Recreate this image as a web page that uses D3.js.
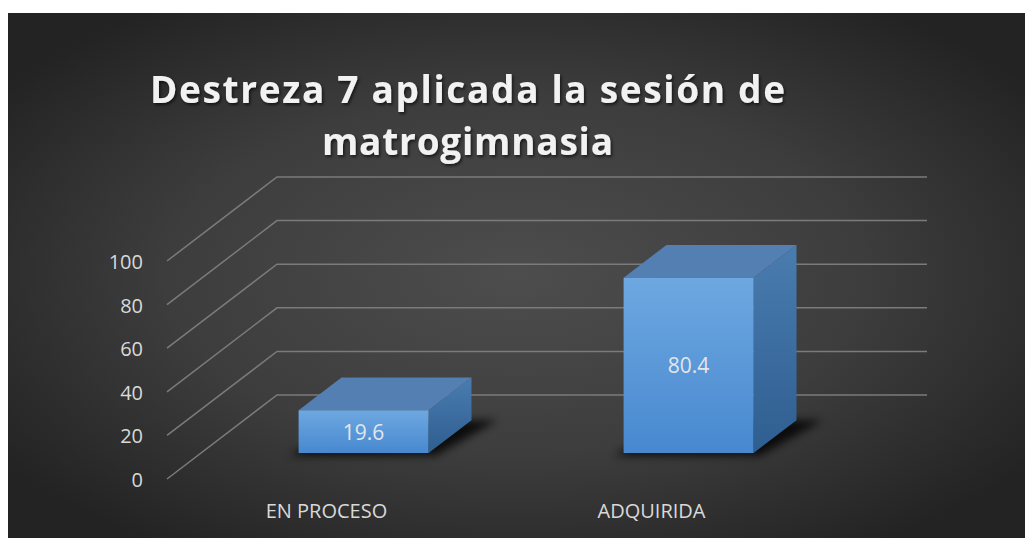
<!DOCTYPE html>
<html>
<head>
<meta charset="utf-8">
<script src="https://cdn.jsdelivr.net/npm/d3@7"></script>
<style>
  body { margin: 0; background: #ffffff; }
  svg { display: block; }
</style>
</head>
<body>
<script>
// chart data
var categories = ["EN PROCESO", "ADQUIRIDA"];
var values = [19.6, 80.4];
var tickValues = [0, 20, 40, 60, 80, 100];
var titleLines = ["Destreza 7 aplicada la sesión de", "matrogimnasia"];

window.onload = drawChart();

function drawChart(){

    var width = 1025,
        height = 538;

    var svg = d3.select("body")
        .append("svg")
        .attr("width", width)
        .attr("height", height);

    var defs = svg.append("defs");

    //dark radial background
    var bg = defs.append("radialGradient")
        .attr("id", "bgGrad")
        .attr("cx", "50%").attr("cy", "50%").attr("r", "62%");
    bg.append("stop").attr("offset", "0%").attr("stop-color", "#4d4d4d");
    bg.append("stop").attr("offset", "55%").attr("stop-color", "#3d3d3d");
    bg.append("stop").attr("offset", "100%").attr("stop-color", "#232323");

    var front = defs.append("linearGradient")
        .attr("id", "frontGrad").attr("x1", 0).attr("y1", 0).attr("x2", 0).attr("y2", 1);
    front.append("stop").attr("offset", "0%").attr("stop-color", "#6ea8e1");
    front.append("stop").attr("offset", "100%").attr("stop-color", "#4788cf");

    var side = defs.append("linearGradient")
        .attr("id", "sideGrad").attr("x1", 0).attr("y1", 0).attr("x2", 0).attr("y2", 1);
    side.append("stop").attr("offset", "0%").attr("stop-color", "#4a7cb0");
    side.append("stop").attr("offset", "100%").attr("stop-color", "#2f5e90");

    defs.append("filter").attr("id", "blur")
        .attr("x", "-20%").attr("y", "-50%").attr("width", "140%").attr("height", "200%")
        .append("feGaussianBlur").attr("stdDeviation", 4);

    defs.append("filter").attr("id", "titleShadow")
        .append("feDropShadow")
        .attr("dx", 1.5).attr("dy", 2).attr("stdDeviation", 1.5)
        .attr("flood-color", "#000").attr("flood-opacity", 0.6);

    svg.append("rect")
        .attr("x", 8).attr("y", 13)
        .attr("width", width - 8).attr("height", height - 13)
        .attr("fill", "url(#bgGrad)");

    //front plane scales
    var x = d3.scaleBand()
        .domain(categories)
        .range([167, 817])
        .paddingInner(0.6)
        .paddingOuter(0.3);

    var y = d3.scaleLinear()
        .domain([0, 100])
        .range([479, 261]);

    //oblique depth: z = 0 front, z = 1 back wall
    var depthX = 110, depthY = -84;
    var barZ = [0.31, 0.70];

    function project(px, v, z){
        return [px + z * depthX, y(v) + z * depthY];
    }

    function poly(pts){ return pts.map(function(p){ return p.join(","); }).join(" "); }

    var x0 = x.range()[0], x1 = x.range()[1];

    //gridlines: side wall diagonal + back wall line
    var grid = svg.append("g")
        .attr("stroke", "#7b7b7b")
        .attr("stroke-width", 1.5)
        .attr("fill", "none");

    grid.selectAll(".grid")
        .data(tickValues)
        .enter()
        .append("polyline")
        .attr("class", "grid")
        .attr("points", function(t){
            return poly([project(x0, t, 0), project(x0, t, 1), project(x1, t, 1)]);
        });

    //tick labels
    svg.append("g").selectAll("text")
        .data(tickValues)
        .enter()
        .append("text")
        .attr("x", 143)
        .attr("y", function(t){ return y(t) + 8; })
        .attr("text-anchor", "end")
        .attr("font-family", "Open Sans")
        .attr("font-size", 20)
        .attr("fill", "#d9d9d9")
        .text(function(t){ return t; });

    //bars
    var bars = svg.append("g").selectAll("g")
        .data(values)
        .enter()
        .append("g");

    //soft shadow on the floor
    bars.append("polygon")
        .attr("filter", "url(#blur)")
        .attr("fill", "#000")
        .attr("opacity", 0.8)
        .attr("points", function(d, i){
            var l = x(categories[i]) - 6, r = x(categories[i]) + x.bandwidth() + 10;
            return poly([project(l, 0, barZ[0] - 0.03), project(r, 0, barZ[0] - 0.03),
                project(r + 16, 0, barZ[1]), project(l + 16, 0, barZ[1])]);
        });

    //right side face
    bars.append("polygon")
        .attr("fill", "url(#sideGrad)")
        .attr("points", function(d, i){
            var r = x(categories[i]) + x.bandwidth();
            return poly([project(r, 0, barZ[0]), project(r, d, barZ[0]),
                project(r, d, barZ[1]), project(r, 0, barZ[1])]);
        });

    //top face
    bars.append("polygon")
        .attr("fill", "#537fb2")
        .attr("points", function(d, i){
            var l = x(categories[i]), r = l + x.bandwidth();
            return poly([project(l, d, barZ[0]), project(r, d, barZ[0]),
                project(r, d, barZ[1]), project(l, d, barZ[1])]);
        });

    //front face
    bars.append("polygon")
        .attr("fill", "url(#frontGrad)")
        .attr("points", function(d, i){
            var l = x(categories[i]), r = l + x.bandwidth();
            return poly([project(l, 0, barZ[0]), project(r, 0, barZ[0]),
                project(r, d, barZ[0]), project(l, d, barZ[0])]);
        });

    //value labels
    bars.append("text")
        .attr("x", function(d, i){ return project(x(categories[i]) + x.bandwidth() / 2, 0, barZ[0])[0]; })
        .attr("y", function(d){ return (project(0, 0, barZ[0])[1] + project(0, d, barZ[0])[1]) / 2 + 8; })
        .attr("text-anchor", "middle")
        .attr("font-family", "Open Sans")
        .attr("font-size", 21)
        .attr("fill", "#e2e6ea")
        .text(function(d){ return d; });

    //category labels
    svg.append("g").selectAll("text")
        .data(categories)
        .enter()
        .append("text")
        .attr("x", function(c){ return x(c) + x.bandwidth() / 2 - 3; })
        .attr("y", 518)
        .attr("text-anchor", "middle")
        .attr("font-family", "Open Sans")
        .attr("font-size", 20)
        .attr("fill", "#d9d9d9")
        .text(function(c){ return c; });

    //title
    var title = svg.append("g").attr("filter", "url(#titleShadow)");
    title.append("text")
        .attr("x", 150).attr("y", 103)
        .attr("textLength", 635)
        .attr("lengthAdjust", "spacing")
        .attr("font-family", "Open Sans")
        .attr("font-weight", "bold")
        .attr("font-size", 37)
        .attr("fill", "#f2f2f2")
        .text(titleLines[0]);
    title.append("text")
        .attr("x", 322).attr("y", 155)
        .attr("textLength", 291)
        .attr("lengthAdjust", "spacing")
        .attr("font-family", "Open Sans")
        .attr("font-weight", "bold")
        .attr("font-size", 37)
        .attr("fill", "#f2f2f2")
        .text(titleLines[1]);
}
</script>
</body>
</html>
